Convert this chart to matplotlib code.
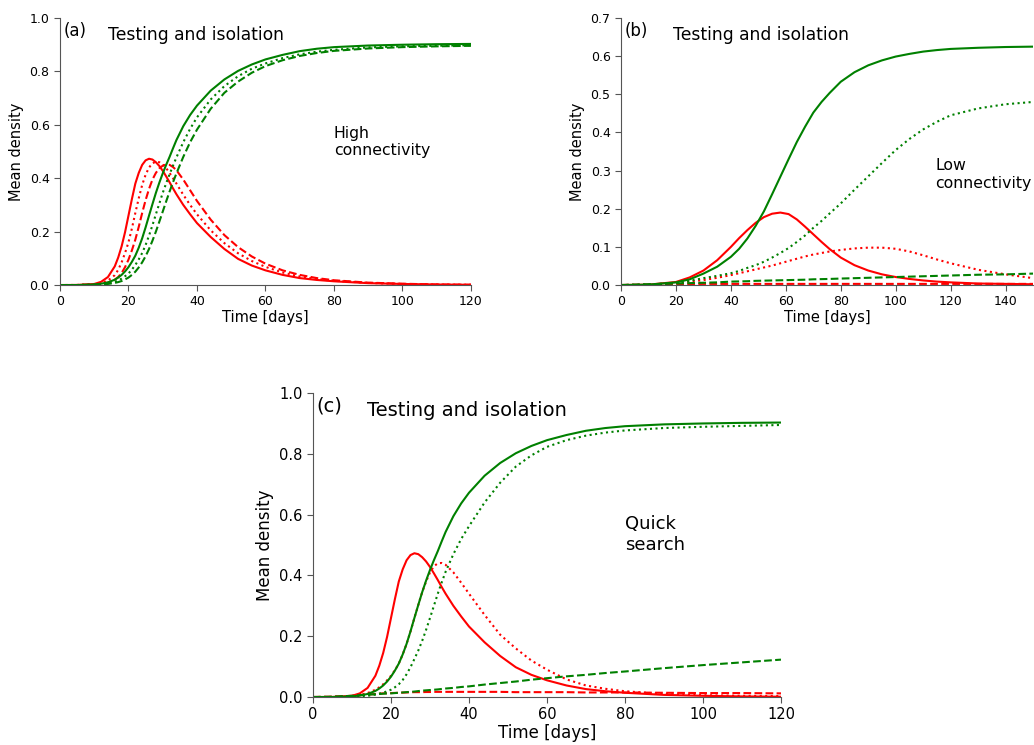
import matplotlib
matplotlib.use("Agg")
import matplotlib.pyplot as plt

# ---------------- data ----------------
# time grid for panels (a) and (c) [days]
t_ac = [0, 5, 10, 12, 14, 16, 17, 18, 19, 20, 21, 22, 23, 24, 25, 26, 27, 28, 29, 30,
        31, 32, 33, 34, 36, 38, 40, 44, 48, 52, 56, 60, 65, 70, 75, 80, 90, 100, 110, 120]

# reference scenario (solid), shared by (a) and (c)
inf_solid = [0, 0.0003, 0.004, 0.012, 0.03, 0.07, 0.103, 0.145, 0.198, 0.26, 0.322, 0.38,
             0.42, 0.45, 0.467, 0.473, 0.47, 0.46, 0.446, 0.428, 0.407, 0.385, 0.362, 0.34,
             0.3, 0.265, 0.232, 0.18, 0.135, 0.098, 0.073, 0.055, 0.038, 0.026, 0.019,
             0.014, 0.007, 0.004, 0.002, 0.001]
rec_solid = [0, 0, 0.002, 0.005, 0.01, 0.02, 0.028, 0.038, 0.051, 0.067, 0.087, 0.11,
             0.14, 0.175, 0.216, 0.26, 0.303, 0.345, 0.383, 0.418, 0.45, 0.48, 0.512, 0.543,
             0.595, 0.637, 0.672, 0.728, 0.77, 0.802, 0.826, 0.845, 0.862, 0.876, 0.885,
             0.891, 0.897, 0.9, 0.902, 0.903]

# panel (a): high connectivity
a_inf_dot = [0, 0.0002, 0.003, 0.007, 0.017, 0.037, 0.057, 0.085, 0.12, 0.16, 0.212, 0.27,
             0.325, 0.375, 0.413, 0.44, 0.456, 0.462, 0.46, 0.452, 0.438, 0.42, 0.4, 0.38,
             0.338, 0.3, 0.265, 0.205, 0.157, 0.119, 0.09, 0.068, 0.047, 0.032, 0.022,
             0.016, 0.008, 0.004, 0.002, 0.001]
a_inf_dash = [0, 0.0001, 0.002, 0.004, 0.009, 0.02, 0.03, 0.045, 0.067, 0.095, 0.13, 0.17,
              0.218, 0.27, 0.318, 0.36, 0.395, 0.42, 0.437, 0.447, 0.451, 0.45, 0.442, 0.43,
              0.395, 0.355, 0.315, 0.245, 0.187, 0.142, 0.107, 0.08, 0.055, 0.038, 0.026,
              0.018, 0.009, 0.005, 0.002, 0.001]
a_rec_dot = [0, 0, 0.001, 0.003, 0.006, 0.012, 0.017, 0.024, 0.033, 0.043, 0.058, 0.075,
             0.096, 0.12, 0.15, 0.185, 0.224, 0.265, 0.305, 0.345, 0.381, 0.415, 0.447, 0.478,
             0.535, 0.585, 0.628, 0.695, 0.745, 0.782, 0.81, 0.83, 0.85, 0.864, 0.874,
             0.881, 0.89, 0.894, 0.896, 0.898]
a_rec_dash = [0, 0, 0.001, 0.002, 0.004, 0.008, 0.011, 0.015, 0.021, 0.028, 0.038, 0.05,
              0.066, 0.085, 0.108, 0.135, 0.166, 0.2, 0.237, 0.275, 0.313, 0.35, 0.385, 0.418,
              0.48, 0.535, 0.582, 0.66, 0.72, 0.762, 0.795, 0.82, 0.842, 0.858, 0.869,
              0.877, 0.886, 0.891, 0.894, 0.896]

# panel (c): quick search
c_inf_dot = [0, 0.0003, 0.003, 0.007, 0.013, 0.024, 0.032, 0.042, 0.055, 0.07, 0.088, 0.11,
             0.14, 0.175, 0.215, 0.26, 0.303, 0.345, 0.38, 0.41, 0.43, 0.44, 0.441, 0.435,
             0.41, 0.376, 0.34, 0.27, 0.205, 0.16, 0.12, 0.09, 0.058, 0.038, 0.027,
             0.019, 0.01, 0.006, 0.004, 0.003]
c_rec_dot = [0, 0, 0.001, 0.002, 0.004, 0.008, 0.011, 0.014, 0.019, 0.024, 0.032, 0.042,
             0.056, 0.075, 0.098, 0.125, 0.153, 0.185, 0.221, 0.26, 0.3, 0.34, 0.377, 0.412,
             0.47, 0.52, 0.562, 0.64, 0.705, 0.758, 0.795, 0.823, 0.845, 0.86, 0.87,
             0.877, 0.885, 0.889, 0.892, 0.895]
c_inf_dash = [0, 0.001, 0.004, 0.006, 0.008, 0.01, 0.011, 0.012, 0.0125, 0.013, 0.0135, 0.014,
              0.0145, 0.015, 0.0155, 0.016, 0.016, 0.016, 0.0165, 0.0165, 0.017, 0.017, 0.017,
              0.017, 0.017, 0.017, 0.017, 0.017, 0.017, 0.016, 0.016, 0.016, 0.016, 0.015,
              0.015, 0.015, 0.014, 0.013, 0.013, 0.012]
c_rec_dash = [0, 0.001, 0.004, 0.006, 0.008, 0.009, 0.010, 0.011, 0.0115, 0.012, 0.013, 0.014,
              0.015, 0.016, 0.017, 0.018, 0.0195, 0.021, 0.022, 0.023, 0.024, 0.025, 0.0265,
              0.028, 0.03, 0.033, 0.035, 0.041, 0.046, 0.051, 0.057, 0.062, 0.068, 0.073,
              0.079, 0.084, 0.095, 0.105, 0.114, 0.123]

# panel (b): low connectivity
t_b = [0, 10, 20, 25, 30, 35, 40, 43, 46, 49, 52, 55, 58, 61, 64, 67, 70, 73, 76, 80,
       85, 90, 95, 100, 105, 110, 115, 120, 130, 140, 150]
b_inf_solid = [0, 0.001, 0.008, 0.02, 0.038, 0.065, 0.1, 0.123, 0.144, 0.163, 0.178, 0.187,
               0.19, 0.186, 0.172, 0.153, 0.133, 0.113, 0.094, 0.072, 0.052, 0.038, 0.028,
               0.021, 0.016, 0.012, 0.009, 0.007, 0.004, 0.003, 0.002]
b_rec_solid = [0, 0.001, 0.007, 0.015, 0.03, 0.048, 0.074, 0.095, 0.122, 0.155, 0.193, 0.238,
               0.284, 0.33, 0.375, 0.415, 0.452, 0.48, 0.504, 0.533, 0.558, 0.576, 0.589,
               0.599, 0.606, 0.612, 0.616, 0.619, 0.622, 0.624, 0.625]
b_inf_dot = [0, 0.001, 0.005, 0.009, 0.013, 0.019, 0.026, 0.031, 0.036, 0.041, 0.046, 0.051,
             0.057, 0.063, 0.069, 0.075, 0.08, 0.084, 0.088, 0.092, 0.096, 0.098, 0.098,
             0.095, 0.088, 0.078, 0.067, 0.057, 0.04, 0.028, 0.018]
b_rec_dot = [0, 0.001, 0.006, 0.011, 0.018, 0.024, 0.031, 0.037, 0.045, 0.052, 0.061, 0.072,
             0.084, 0.097, 0.113, 0.13, 0.15, 0.168, 0.188, 0.214, 0.25, 0.285, 0.32,
             0.354, 0.383, 0.408, 0.428, 0.445, 0.463, 0.474, 0.48]
b_inf_dash = [0, 0.001, 0.002, 0.0025, 0.003, 0.003, 0.003, 0.003, 0.003, 0.003, 0.003, 0.003,
              0.003, 0.003, 0.003, 0.003, 0.003, 0.003, 0.003, 0.003, 0.003, 0.003, 0.003,
              0.003, 0.003, 0.003, 0.003, 0.003, 0.003, 0.003, 0.003]
b_rec_dash = [0, 0.002, 0.004, 0.005, 0.006, 0.007, 0.009, 0.0095, 0.01, 0.011, 0.0115, 0.012,
              0.0125, 0.013, 0.0135, 0.014, 0.015, 0.0155, 0.016, 0.017, 0.018, 0.019, 0.02,
              0.021, 0.022, 0.023, 0.024, 0.025, 0.027, 0.028, 0.03]

# ---------------- figure ----------------
fig = plt.figure(figsize=(10.34, 7.45), dpi=100)
ax_a = fig.add_axes([0.058, 0.6174, 0.3975, 0.3584])
ax_b = fig.add_axes([0.6006, 0.6174, 0.3985, 0.3584])
ax_c = fig.add_axes([0.3027, 0.0644, 0.4526, 0.408])

RED, GREEN = "red", "green"
LW = 1.5
SPINE = "#555555"


def style(ax, tick_fs, label_fs):
    for s in ("top", "right"):
        ax.spines[s].set_visible(False)
    for s in ("left", "bottom"):
        ax.spines[s].set_color(SPINE)
    ax.tick_params(colors=SPINE, labelcolor="black", labelsize=tick_fs, length=4)
    ax.set_xlabel("Time [days]", fontsize=label_fs, labelpad=1)
    ax.set_ylabel("Mean density", fontsize=label_fs)


def draw(ax, t, inf_s, inf_d, inf_dd, rec_s, rec_d, rec_dd):
    ax.plot(t, inf_s, color=RED, lw=LW, ls="-")
    ax.plot(t, inf_d, color=RED, lw=LW, ls=":")
    ax.plot(t, inf_dd, color=RED, lw=LW, ls="--")
    ax.plot(t, rec_s, color=GREEN, lw=LW, ls="-")
    ax.plot(t, rec_d, color=GREEN, lw=LW, ls=":")
    ax.plot(t, rec_dd, color=GREEN, lw=LW, ls="--")


# panel (a)
draw(ax_a, t_ac, inf_solid, a_inf_dot, a_inf_dash, rec_solid, a_rec_dot, a_rec_dash)
ax_a.set_xlim(0, 120)
ax_a.set_ylim(0, 1.0)
ax_a.set_xticks([0, 20, 40, 60, 80, 100, 120])
ax_a.set_yticks([0, 0.2, 0.4, 0.6, 0.8, 1.0])
style(ax_a, 9, 10.5)
ax_a.text(0.008, 0.985, "(a)", transform=ax_a.transAxes, fontsize=12, va="top")
ax_a.text(0.117, 0.97, "Testing and isolation", transform=ax_a.transAxes, fontsize=12.3, va="top")
ax_a.text(80, 0.535, "High\nconnectivity", fontsize=11.3, va="center", ha="left")

# panel (b)
draw(ax_b, t_b, b_inf_solid, b_inf_dot, b_inf_dash, b_rec_solid, b_rec_dot, b_rec_dash)
ax_b.set_xlim(0, 150)
ax_b.set_ylim(0, 0.7)
ax_b.set_xticks([0, 20, 40, 60, 80, 100, 120, 140])
ax_b.set_yticks([0, 0.1, 0.2, 0.3, 0.4, 0.5, 0.6, 0.7])
style(ax_b, 9, 10.5)
ax_b.text(0.008, 0.985, "(b)", transform=ax_b.transAxes, fontsize=12, va="top")
ax_b.text(0.126, 0.97, "Testing and isolation", transform=ax_b.transAxes, fontsize=12.3, va="top")
ax_b.text(114.5, 0.29, "Low\nconnectivity", fontsize=11.3, va="center", ha="left")

# panel (c)
draw(ax_c, t_ac, inf_solid, c_inf_dot, c_inf_dash, rec_solid, c_rec_dot, c_rec_dash)
ax_c.set_xlim(0, 120)
ax_c.set_ylim(0, 1.0)
ax_c.set_xticks([0, 20, 40, 60, 80, 100, 120])
ax_c.set_yticks([0, 0.2, 0.4, 0.6, 0.8, 1.0])
style(ax_c, 10.5, 12)
ax_c.text(0.008, 0.99, "(c)", transform=ax_c.transAxes, fontsize=14, va="top")
ax_c.text(0.115, 0.975, "Testing and isolation", transform=ax_c.transAxes, fontsize=14, va="top")
ax_c.text(80, 0.535, "Quick\nsearch", fontsize=13, va="center", ha="left")

fig.savefig("out.png", dpi=100)
